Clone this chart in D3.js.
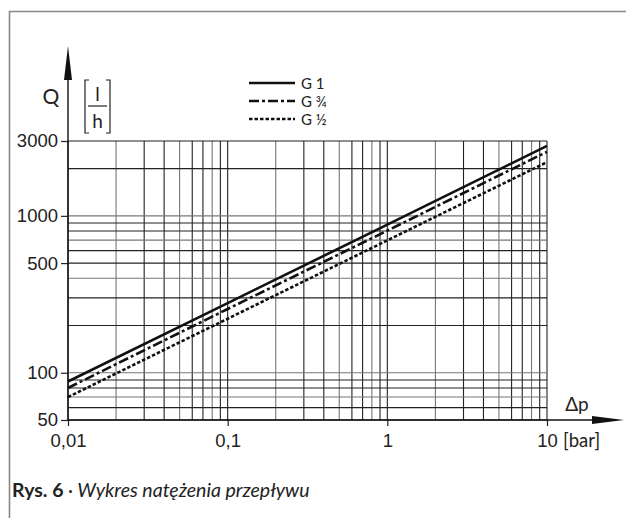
<!DOCTYPE html>
<html>
<head>
<meta charset="utf-8">
<script src="https://cdn.jsdelivr.net/npm/d3@7"></script>
<style>
  body { margin: 0; background: #fff; }
  svg { display: block; font-family: Lato, "Open Sans", sans-serif; }
</style>
</head>
<body>
<svg id="chart" width="626" height="518"></svg>
<script>
'use strict';

// pressure drop [bar] where the curves were read
const dp = [0.01, 0.1, 1, 10];
// flow rate [l/h] per thread size
const qG1 = [88, 278, 880, 2790];
const qG34 = [80, 255, 805, 2560];
const qG12 = [70, 221, 698, 2200];

const series = [
  {name: 'G 1', values: qG1, dash: null},
  {name: 'G \u00be', values: qG34, dash: '10,3,3,3'},
  {name: 'G \u00bd', values: qG12, dash: '3.5,2'}
];

const xTicks = [0.01, 0.1, 1, 10];
const xTickLabels = ['0,01', '0,1', '1', '10'];
const yTicks = [50, 100, 500, 1000, 3000];

const svg = d3.select('#chart');

// outer frame (top + left only)
svg.append('path')
  .attr('d', 'M9.5,518 V11.5 H626')
  .attr('fill', 'none')
  .attr('stroke', '#888')
  .attr('stroke-width', 1.6);

let x = d3.scaleLog().domain([0.01, 10]).range([68, 547]);
let y = d3.scaleLog().domain([50, 3000]).range([420, 141]);

// grid
let vLines = [];
[0.01, 0.1, 1].forEach(function(d) {
  for (let k = 1; k <= 9; k++) vLines.push(d * k);
});
vLines.push(10);
let hLines = [];
[10, 100, 1000].forEach(function(d) {
  for (let k = 1; k <= 9; k++) {
    let v = d * k;
    if (v >= 50 && v <= 3000) hLines.push(v);
  }
});

let grid = svg.append('g').attr('class', 'grid');
grid.selectAll('line.v')
  .data(vLines)
  .enter()
  .append('line')
  .attr('class', 'v')
  .attr('x1', d => x(d))
  .attr('x2', d => x(d))
  .attr('y1', y(3000))
  .attr('y2', y(50))
  .attr('stroke', (d, i) => (i % 3 === 1 ? '#777' : '#222'))
  .attr('stroke-width', 1.1);
grid.selectAll('line.h')
  .data(hLines)
  .enter()
  .append('line')
  .attr('class', 'h')
  .attr('x1', x(0.01))
  .attr('x2', x(10))
  .attr('y1', d => y(d))
  .attr('y2', d => y(d))
  .attr('stroke', (d, i) => (i % 3 === 2 ? '#777' : '#222'))
  .attr('stroke-width', 1.1);

// curves
let line = d3.line()
  .x((d, i) => x(dp[i]))
  .y(d => y(d));

svg.append('g')
  .selectAll('path')
  .data(series)
  .enter()
  .append('path')
  .attr('d', d => line(d.values))
  .attr('fill', 'none')
  .attr('stroke', '#111')
  .attr('stroke-width', 2.6)
  .attr('stroke-dasharray', d => d.dash);

// axes
let yAxis = d3.axisLeft(y)
  .tickValues(yTicks)
  .tickFormat(d3.format('d'))
  .tickSize(7)
  .tickPadding(3);
let gy = svg.append('g')
  .attr('transform', 'translate(' + x(0.01) + ',0)')
  .call(yAxis);
gy.select('.domain').remove();
gy.selectAll('.tick line').attr('stroke', '#222').attr('stroke-width', 1.2);
gy.selectAll('.tick text')
  .attr('font-size', 18.5)
  .attr('fill', '#222');

let xAxis = d3.axisBottom(x)
  .tickValues(xTicks)
  .tickFormat((d, i) => xTickLabels[i])
  .tickSize(6)
  .tickPadding(8);
let gx = svg.append('g')
  .attr('transform', 'translate(0,' + y(50) + ')')
  .call(xAxis);
gx.select('.domain').remove();
gx.selectAll('.tick line').attr('stroke', '#222').attr('stroke-width', 1.2);
gx.selectAll('.tick text')
  .attr('font-size', 18.5)
  .attr('fill', '#222');

svg.append('text')
  .attr('x', x(10) + 16)
  .attr('y', y(50) + 14 + 0.71 * 18.5)
  .attr('font-size', 18.5)
  .attr('fill', '#222')
  .text('[bar]');

// axis lines with arrows
svg.append('line')
  .attr('x1', x(0.01)).attr('x2', x(0.01))
  .attr('y1', y(50)).attr('y2', 60)
  .attr('stroke', '#111').attr('stroke-width', 1.4);
svg.append('path')
  .attr('d', d3.line()([[x(0.01), 46], [x(0.01) - 4, 80], [x(0.01) + 4, 80]]))
  .attr('fill', '#111');
svg.append('line')
  .attr('x1', x(0.01)).attr('x2', 610)
  .attr('y1', y(50)).attr('y2', y(50))
  .attr('stroke', '#111').attr('stroke-width', 1.4);
svg.append('path')
  .attr('d', d3.line()([[624, y(50)], [592, y(50) - 4], [592, y(50) + 4]]))
  .attr('fill', '#111');

// axis titles
svg.append('text')
  .attr('x', 51).attr('y', 104)
  .attr('text-anchor', 'middle')
  .attr('font-size', 21)
  .attr('fill', '#222')
  .text('Q');
let unit = svg.append('g').attr('fill', 'none').attr('stroke', '#222').attr('stroke-width', 1.2);
unit.append('path').attr('d', 'M89,80 H85 V133 H89');
unit.append('path').attr('d', 'M106,80 H110 V133 H106');
unit.append('line').attr('x1', 88).attr('x2', 107).attr('y1', 106).attr('y2', 106);
svg.append('text')
  .attr('x', 97.5).attr('y', 101)
  .attr('text-anchor', 'middle')
  .attr('font-size', 19)
  .attr('fill', '#222')
  .text('l');
svg.append('text')
  .attr('x', 97.5).attr('y', 128)
  .attr('text-anchor', 'middle')
  .attr('font-size', 19)
  .attr('fill', '#222')
  .text('h');
svg.append('text')
  .attr('x', 577).attr('y', 411)
  .attr('text-anchor', 'middle')
  .attr('font-size', 19)
  .attr('fill', '#222')
  .text('\u0394p');

// legend
let legend = svg.append('g')
  .selectAll('g')
  .data(series)
  .enter()
  .append('g')
  .attr('transform', (d, i) => 'translate(249,' + (83 + i * 18) + ')');
legend.append('line')
  .attr('x1', 0).attr('x2', 46)
  .attr('stroke', '#111')
  .attr('stroke-width', 2.4)
  .attr('stroke-dasharray', d => d.dash);
legend.append('text')
  .attr('x', 52).attr('y', 5.5)
  .attr('font-size', 15)
  .attr('fill', '#222')
  .text(d => d.name);

// caption
let cap = svg.append('text')
  .attr('x', 12).attr('y', 497)
  .attr('font-size', 19.5)
  .attr('fill', '#222');
cap.append('tspan').attr('font-weight', 'bold').text('Rys. 6');
cap.append('tspan').attr('font-style', 'italic').text(' \u00b7 Wykres nat\u0119\u017cenia przep\u0142ywu');
</script>
</body>
</html>
